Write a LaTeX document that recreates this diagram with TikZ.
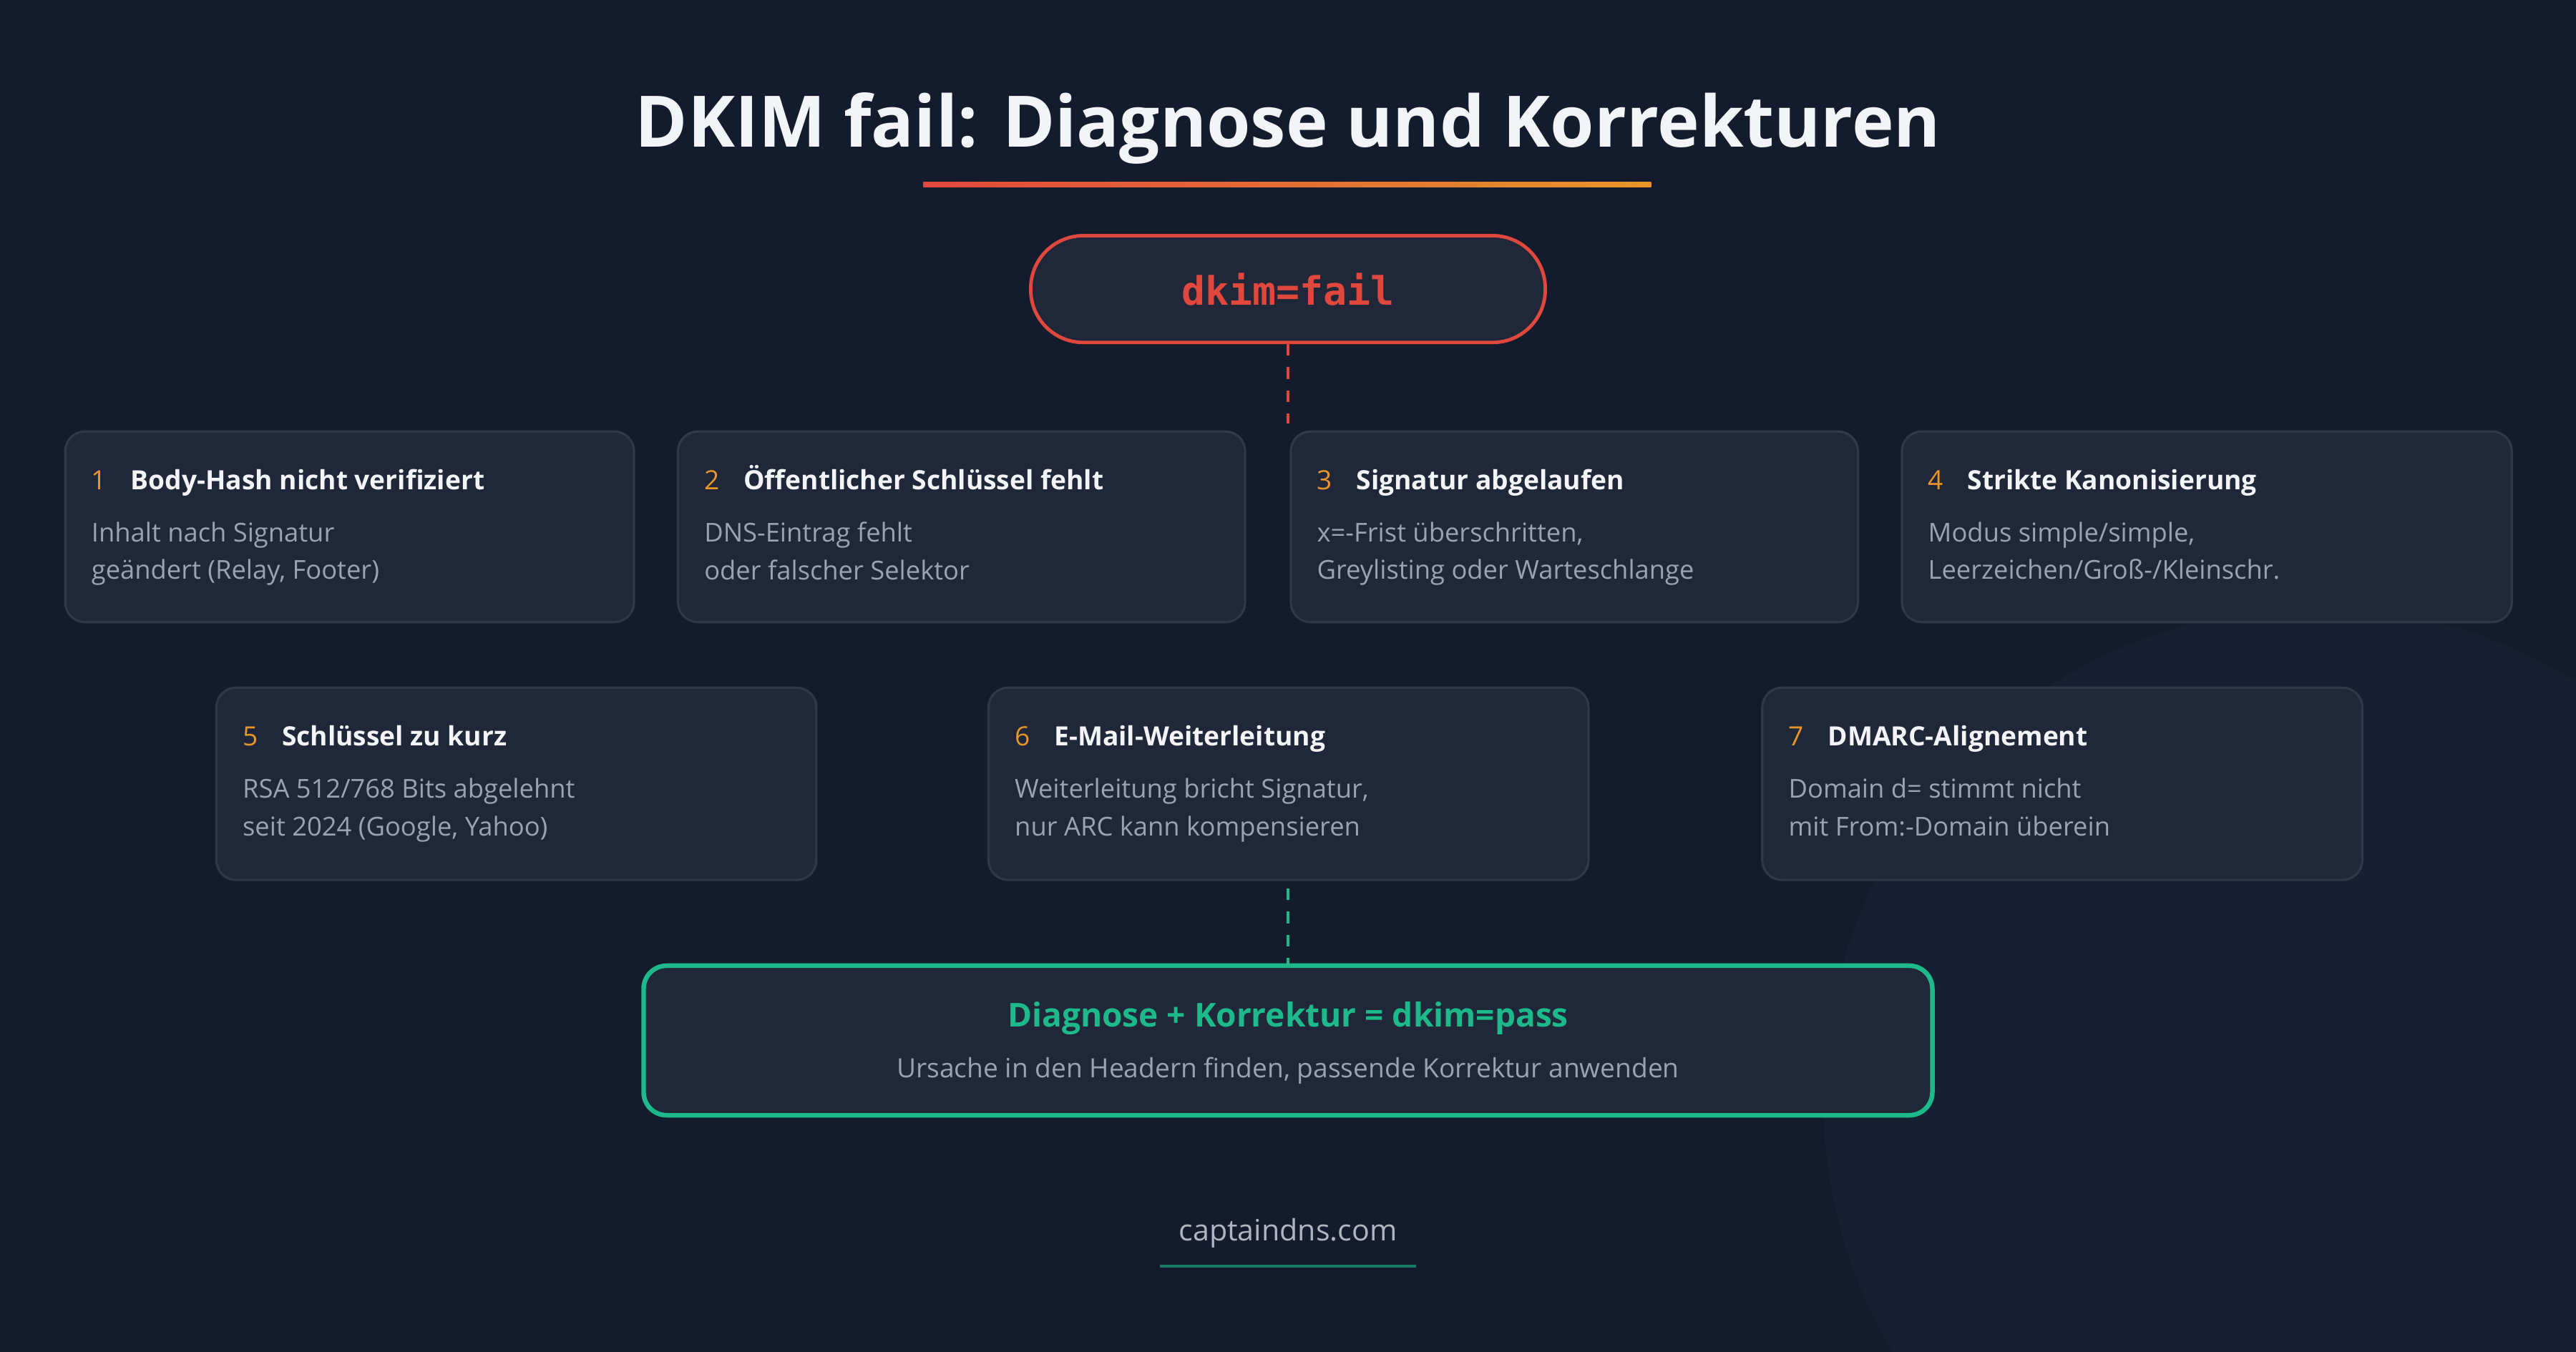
\documentclass[tikz,border=0pt]{standalone}
\usepackage{fontspec}
\setmainfont{Open Sans}
\setmonofont{DejaVu Sans Mono}
\usetikzlibrary{calc,positioning}
\definecolor{bgdark}{HTML}{131B2C}
\definecolor{bgmid}{HTML}{1B2436}
\definecolor{cardfill}{HTML}{1F2738}
\definecolor{cardline}{HTML}{2F3849}
\definecolor{failred}{HTML}{E0483E}
\definecolor{numorange}{HTML}{E8952A}
\definecolor{passgreen}{HTML}{1DB98A}
\definecolor{greytext}{HTML}{9AA3B2}
\definecolor{headwhite}{HTML}{F2F4F7}
\begin{document}
\begin{tikzpicture}[x=0.01cm, y=0.01cm,
    card/.style={draw=cardline, fill=cardfill, rounded corners=0.12cm, line width=0.4pt, anchor=north west, inner sep=0},
    num/.style={anchor=base west, inner sep=0, text=numorange, font=\fontsize{4.6}{6}\selectfont},
    head/.style={anchor=base west, inner sep=0, text=headwhite, font=\fontsize{4.6}{6}\selectfont\bfseries},
    body/.style={anchor=north west, inner sep=0, align=left, text=greytext, font=\fontsize{4.5}{6.55}\selectfont}]
    % Background
    \fill[bgdark] (0,0) rectangle (1568,-823);
    \begin{scope}
        \clip (0,0) rectangle (1568,-823);
        \fill[bgmid, opacity=0.6] (1410,-670) circle (300);
    \end{scope}
    \useasboundingbox (0,0) rectangle (1568,-823);

    % Title
    \node[text=headwhite, font=\fontsize{12.3}{14}\selectfont\bfseries] (title) at (784,-78) {DKIM fail: Diagnose und Korrekturen};
    \shade[left color=failred, right color=numorange] (562,-111) rectangle (1005,-114);

    % Start
    \node[draw=failred, line width=0.6pt, fill=cardfill, rounded corners=0.32cm, minimum width=3.13cm, minimum height=0.65cm, text=failred, font=\fontsize{6.8}{8}\selectfont\ttfamily\bfseries] (fail) at (784,-176) {dkim=fail};
    \coordinate (split) at (784,-258);
    \draw[failred, line width=0.6pt, dash pattern=on 2pt off 2pt] (fail) -- (split);

    % Cards, first row
    \node[card, minimum width=3.46cm, minimum height=1.16cm] (c1) at (39,-262) {};
    \node[card, minimum width=3.45cm, minimum height=1.16cm] (c2) at (412,-262) {};
    \node[card, minimum width=3.45cm, minimum height=1.16cm] (c3) at (785,-262) {};
    \node[card, minimum width=3.71cm, minimum height=1.16cm] (c4) at (1157,-262) {};
    % Cards, second row
    \node[card, minimum width=3.65cm, minimum height=1.17cm] (c5) at (131,-418) {};
    \node[card, minimum width=3.65cm, minimum height=1.17cm] (c6) at (601,-418) {};
    \node[card, minimum width=3.65cm, minimum height=1.17cm] (c7) at (1072,-418) {};

    % Card texts
    \foreach \c/\n/\h/\b in {
        c1/1/Body-Hash nicht verifiziert/{Inhalt nach Signatur\\geändert (Relay, Footer)},
        c2/2/Öffentlicher Schlüssel fehlt/{DNS-Eintrag fehlt\\oder falscher Selektor},
        c3/3/Signatur abgelaufen/{x=-Frist überschritten,\\Greylisting oder Warteschlange},
        c4/4/Strikte Kanonisierung/{Modus simple/simple,\\Leerzeichen/Groß-/Kleinschr.},
        c5/5/Schlüssel zu kurz/{RSA 512/768 Bits abgelehnt\\seit 2024 (Google, Yahoo)},
        c6/6/E-Mail-Weiterleitung/{Weiterleitung bricht Signatur,\\nur ARC kann kompensieren},
        c7/7/DMARC-Alignement/{Domain d= stimmt nicht\\mit From:-Domain überein}} {
        \node[num] (\c n) at ($(\c.north west)+(16,-36)$) {\n};
        \node[head] (\c h) at ($(\c.north west)+(40,-36)$) {\h};
        \node[body] (\c b) at ($(\c.north west)+(16,-55)$) {\b};
    }

    % Result
    \node[draw=passgreen, line width=0.8pt, fill=cardfill, rounded corners=0.14cm, minimum width=7.84cm, minimum height=0.91cm] (pass) at (784,-633.5) {};
    \node[text=passgreen, font=\fontsize{5.7}{7}\selectfont\bfseries] (passt) at (784,-620) {Diagnose + Korrektur = dkim=pass};
    \node[text=greytext, font=\fontsize{4.6}{6}\selectfont] (passb) at (784,-652) {Ursache in den Headern finden, passende Korrektur anwenden};
    \coordinate (join) at (784,-541);
    \draw[passgreen, line width=0.6pt, dash pattern=on 2pt off 2pt] (join) -- (pass.north);

    % Footer
    \node[text=greytext!80, font=\fontsize{5.1}{6}\selectfont] (site) at (784,-751) {captaindns.com};
    \fill[passgreen!60!bgdark] (706,-770) rectangle (862,-772);
\end{tikzpicture}
\end{document}
